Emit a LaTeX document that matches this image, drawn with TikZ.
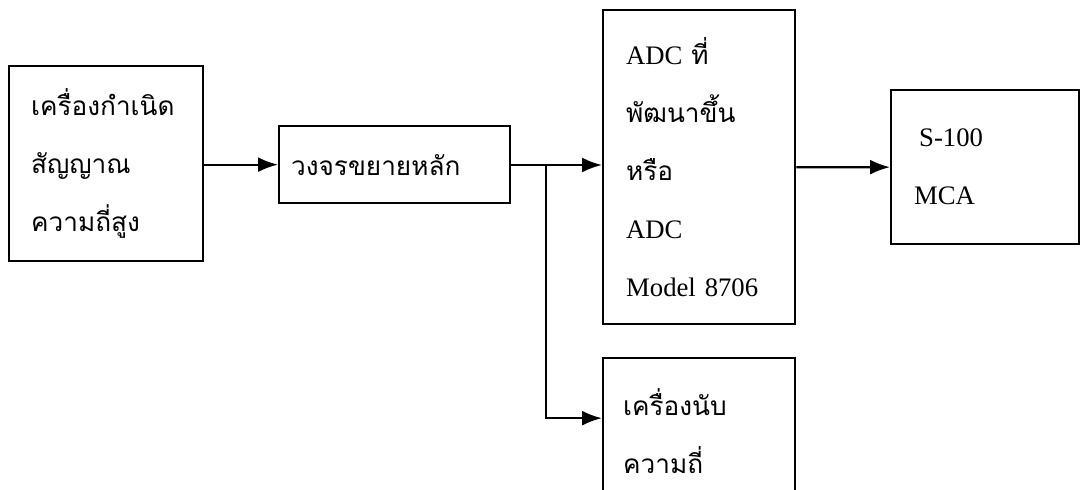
\documentclass[tikz,border=0pt]{standalone}
\usepackage{fontspec}
\usepackage{tikz}
\usetikzlibrary{arrows.meta}
\setmainfont{Liberation Serif}
\newfontfamily\thaifont[Script=Thai,Scale=0.98]{Loma}
\newcommand{\thtxt}[1]{{\thaifont #1}}

\begin{document}
\begin{tikzpicture}[x=1cm,y=1cm,
  every node/.style={font=\fontsize{15.2}{33}\selectfont},
  blk/.style={draw,line width=1.3pt,anchor=north west,align=left,inner ysep=0pt},
  sig/.style={line width=1.3pt,-{Latex[length=0.4cm,width=0.3cm]}}]
\clip (0,0) rectangle (21.62,-9.78);
\node[blk,inner xsep=0.44cm,text width=3.0cm,minimum height=3.9cm] (gen) at (0.16,-1.30)
  {\thtxt{เครื่องกำเนิด}\\\thtxt{สัญญาณ}\\\thtxt{ความถี่สูง}};
\node[blk,inner xsep=0.24cm,text width=4.14cm,minimum height=1.54cm] (amp) at (5.56,-2.50)
  {\thtxt{วงจรขยายหลัก}};
\node[blk,inner xsep=0.46cm,text width=2.92cm,minimum height=6.28cm] (adc) at (12.04,-0.18)
  {ADC \thtxt{ที่}\\\thtxt{พัฒนาขึ้น}\\\thtxt{หรือ}\\ADC\\Model 8706};
\node[blk,inner xsep=0.46cm,text width=2.84cm,minimum height=3.08cm] (mca) at (17.80,-1.78)
  {\hspace*{0.1cm}S-100\\MCA};
\node[blk,inner xsep=0.40cm,text width=3.04cm,minimum height=2.92cm] (cnt) at (12.04,-7.14)
  {\thtxt{เครื่องนับ}\\\thtxt{ความถี่}};
\coordinate (split) at (10.92,-3.30);
\draw[sig] (gen.east |- amp.west) -- (amp.west);
\draw[sig] (amp.east |- split) -- (split -| adc.west);
\draw[sig] (split) |- ([yshift=0.26cm]cnt.west);
\draw[sig] (adc) -- (mca);
\end{tikzpicture}
\end{document}
